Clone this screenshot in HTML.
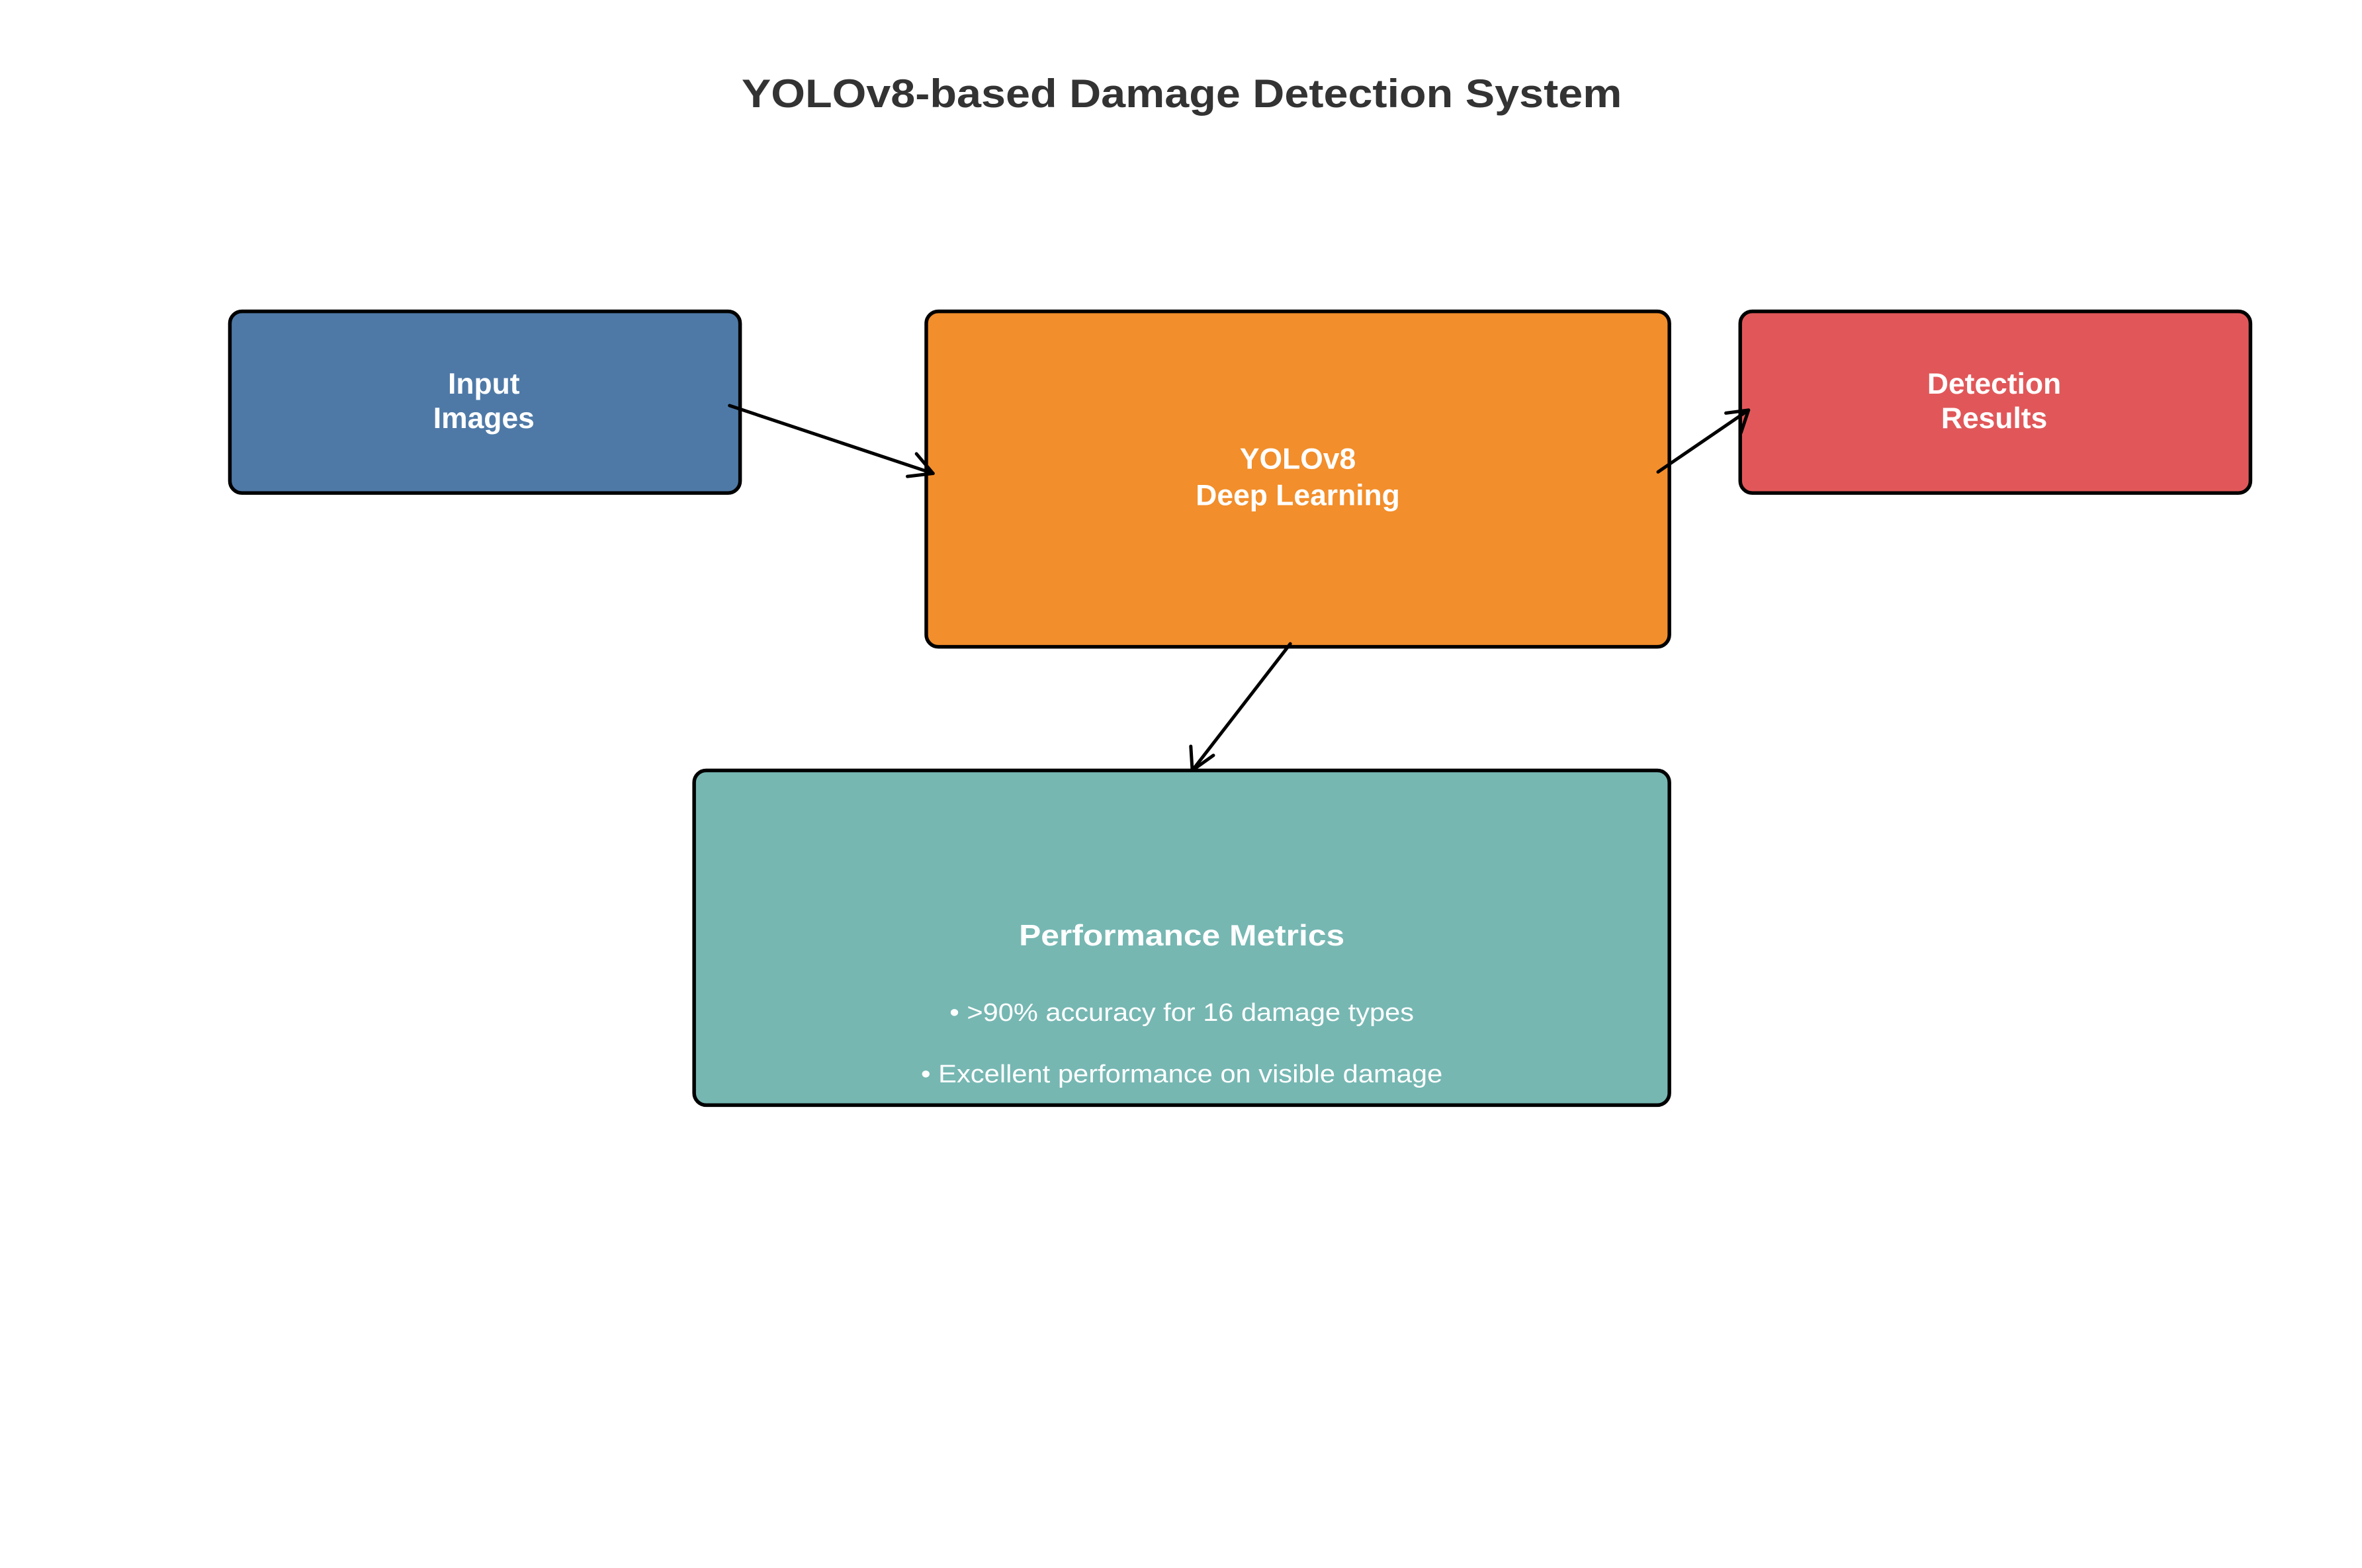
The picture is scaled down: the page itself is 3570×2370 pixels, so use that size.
<!DOCTYPE html>
<html><head><meta charset="utf-8"><style>
html,body{margin:0;padding:0;background:#fff;}
svg{display:block;}
text{font-family:"Liberation Sans",Arial,sans-serif;}
</style></head><body>
<svg width="3570" height="2370" viewBox="0 0 1567 1040" preserveAspectRatio="none" xmlns="http://www.w3.org/2000/svg">
<rect width="1567" height="1040" fill="#fff"/>
<text x="784" y="71" text-anchor="middle" font-size="26.5" font-weight="bold" fill="#333" textLength="584" lengthAdjust="spacingAndGlyphs">YOLOv8-based Damage Detection System</text>
<g stroke="#000" stroke-width="2.4">
<rect x="152.5" y="206.5" width="338.5" height="120.5" rx="8" fill="#4e79a7"/>
<rect x="614.5" y="206.5" width="493" height="222.5" rx="8" fill="#f28e2b"/>
<rect x="1154.5" y="206.5" width="338.5" height="120.5" rx="8" fill="#e15759"/>
<rect x="460.5" y="511" width="647" height="222" rx="8" fill="#76b7b2"/>
</g>
<g stroke="#000" stroke-width="2.2" fill="none" stroke-linecap="round" stroke-linejoin="round">
<line x1="484" y1="269" x2="619" y2="314"/>
<polyline points="608,301 619,314 602,316"/>
<line x1="1100" y1="313" x2="1160" y2="272"/>
<polyline points="1145,274 1160,272 1155,287"/>
<line x1="856" y1="427" x2="791" y2="511"/>
<polyline points="790,495 791,511 805,501"/>
</g>
<g fill="#fff" font-weight="bold" font-size="19.5" text-anchor="middle">
<text x="321" y="261">Input</text>
<text x="321" y="284">Images</text>
<text x="861" y="311">YOLOv8</text>
<text x="861" y="335">Deep Learning</text>
<text x="1323" y="261">Detection</text>
<text x="1323" y="284">Results</text>
<text x="784" y="627" textLength="216" lengthAdjust="spacingAndGlyphs">Performance Metrics</text>
</g>
<g fill="#fff" font-size="16.5" text-anchor="middle">
<text x="784" y="677" textLength="308" lengthAdjust="spacingAndGlyphs">• &gt;90% accuracy for 16 damage types</text>
<text x="784" y="718" textLength="346" lengthAdjust="spacingAndGlyphs">• Excellent performance on visible damage</text>
</g>
</svg>
</body></html>
